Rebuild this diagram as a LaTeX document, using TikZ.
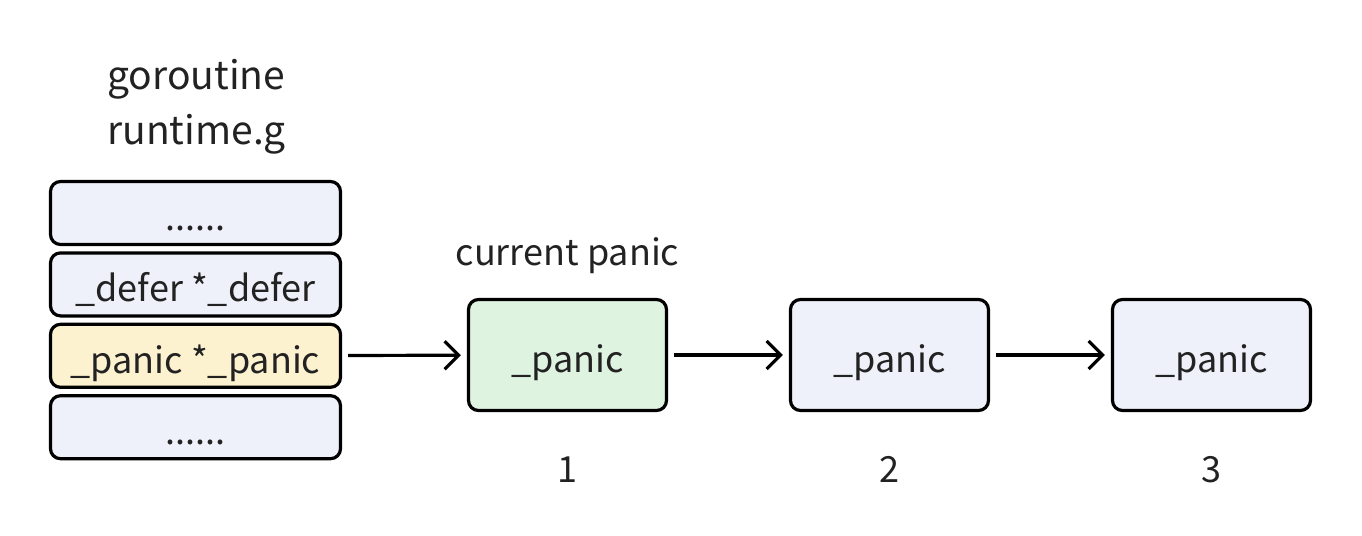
\documentclass[tikz,border=0pt]{standalone}
\usepackage{fontspec}
\setmainfont{Noto Sans CJK SC}
\usetikzlibrary{positioning, arrows.meta}
\definecolor{slotfill}{HTML}{EEF1F9}
\definecolor{panicfill}{HTML}{FDF2D0}
\definecolor{currfill}{HTML}{DFF3E1}
\definecolor{inkgray}{HTML}{222222}

\begin{document}
\begin{tikzpicture}[x=0.5pt, y=-0.5pt, font=\fontsize{18}{22}\selectfont, text=inkgray,
	slot/.style={draw=black, line width=1.6pt, rounded corners=5pt, fill=slotfill,
		minimum width=145pt, minimum height=31.5pt, inner sep=0pt,
		text height=17.5pt, text depth=0pt},
	pbox/.style={slot, minimum width=99pt, minimum height=55.5pt},
	lbl/.style={inner sep=0pt},
	link/.style={-{Straight Barb[length=7pt, width=14pt, line width=1.6pt]}, line width=1.6pt,
		shorten <=3pt, shorten >=3pt}]
	\useasboundingbox (0,0) rectangle (1362,536);

	% goroutine stack
	\node[lbl, align=left, anchor=west, font=\fontsize{19.5}{27.5}\selectfont] (g) at (107,107) {goroutine\\runtime.g};
	\node[slot] (s1) at (195.5,213) {......};
	\node[slot, below=2.6pt of s1] (s2) {\_defer *\_defer};
	\node[slot, below=2.6pt of s2, fill=panicfill] (s3) {\_panic *\_panic};
	\node[slot, below=2.6pt of s3] (s4) {......};

	% panic chain
	\node[pbox, fill=currfill] (p1) at (567.5,355) {\_panic};
	\node[pbox, right=60.4pt of p1] (p2) {\_panic};
	\node[pbox, right=60.4pt of p2] (p3) {\_panic};

	\node[lbl, above=12pt of p1] (cur) {current panic};
	\node[lbl, below=22pt of p1] (n1) {1};
	\node[lbl, below=22pt of p2] (n2) {2};
	\node[lbl, below=22pt of p3] (n3) {3};

	\draw[link] (s3) -- (p1);
	\draw[link] (p1) -- (p2);
	\draw[link] (p2) -- (p3);
\end{tikzpicture}
\end{document}
